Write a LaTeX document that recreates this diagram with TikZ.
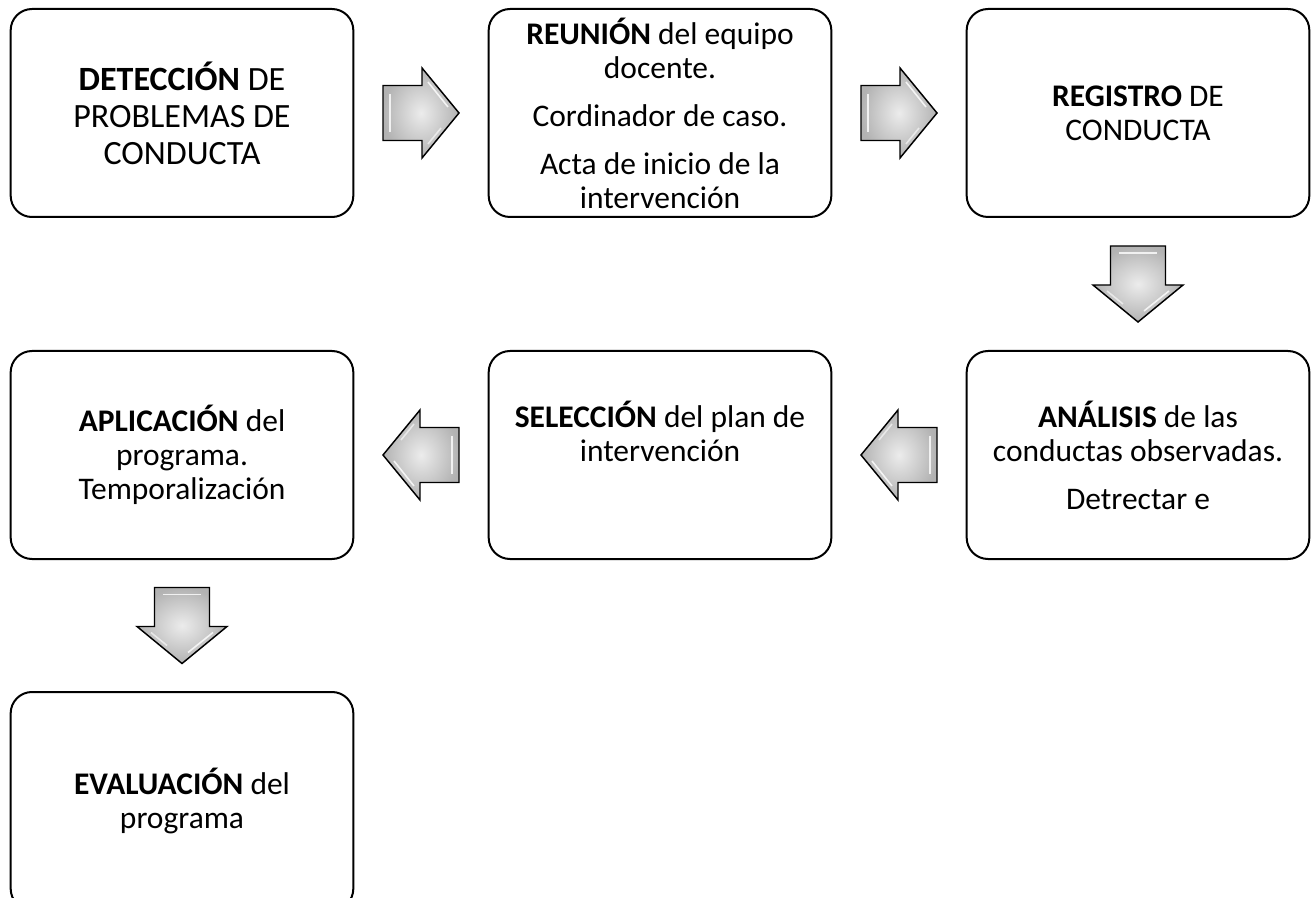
\documentclass[tikz,border=0pt]{standalone}
\usepackage{fontspec}
\setmainfont{Carlito}
\usetikzlibrary{calc}

\begin{document}
\begin{tikzpicture}[x = 0.75pt, y = -0.75pt, line width = 1.5pt,
				box/.style = {draw, rounded corners = 16pt, minimum width = 257pt,
				minimum height = 156pt, align = center,
				font = \fontsize{23.6}{25.5}\selectfont},
				big/.style = {font = \fontsize{25.5}{27.75}\selectfont},
				flecha/.pic = {
					\shade [draw, line width = 1.1pt, inner color = gray!15, outer color = gray!60]
						(-38,-27.5) -- (1,-27.5) -- (1,-45) -- (38,0) -- (1,45) -- (1,27.5)
						-- (-38,27.5) -- cycle;
					\draw [white, line width = 1.2pt, opacity = 0.8] (-31,19) -- (-31,-19);
					\draw [white, line width = 1.2pt, opacity = 0.8] (7,-31) -- (27,-6);
					\draw [white, line width = 1.2pt, opacity = 0.6] (7,31) -- (20,15);
				}]

				\useasboundingbox (0,0) rectangle (1314,898);

				\node [box, big] (b_1) at (182,113) {\textbf{DETECCIÓN} DE\\ PROBLEMAS DE\\ CONDUCTA};
				\node [box] (b_2) at (660,113) {\textbf{REUNIÓN} del equipo\\ docente.\\[10.5pt]
				Cordinador de caso.\\[10.5pt] Acta de inicio de la\\ intervención};
				\node [box] (b_3) at (1138,113) {\textbf{REGISTRO} DE\\ CONDUCTA};
				\node [box] (b_4) at (1138,455) {\textbf{ANÁLISIS} de las\\ conductas observadas.\\[10.5pt]
				Detrectar e};
				\node [box] (b_5) at (660,455) {\textbf{SELECCIÓN} del plan de\\ intervención\\[10.5pt] \mbox{}};
				\node [box] (b_6) at (182,455) {\textbf{APLICACIÓN} del\\ programa.\\ Temporalización};
				\node [box, minimum height = 163.5pt] (b_7) at (182,801) {\textbf{EVALUACIÓN} del\\ programa};

				\pic at ($(b_1.east)!0.5!(b_2.west)$) {flecha};
				\pic at ($(b_2.east)!0.5!(b_3.west)$) {flecha};
				\pic [rotate = -90] at ($(b_3.south)!0.5!(b_4.north)$) {flecha};
				\pic [rotate = 180] at ($(b_4.west)!0.5!(b_5.east)$) {flecha};
				\pic [rotate = 180] at ($(b_5.west)!0.5!(b_6.east)$) {flecha};
				\pic [rotate = -90] at ($(b_6.south)!0.5!(b_7.north)$) {flecha};
			\end{tikzpicture}
\end{document}
